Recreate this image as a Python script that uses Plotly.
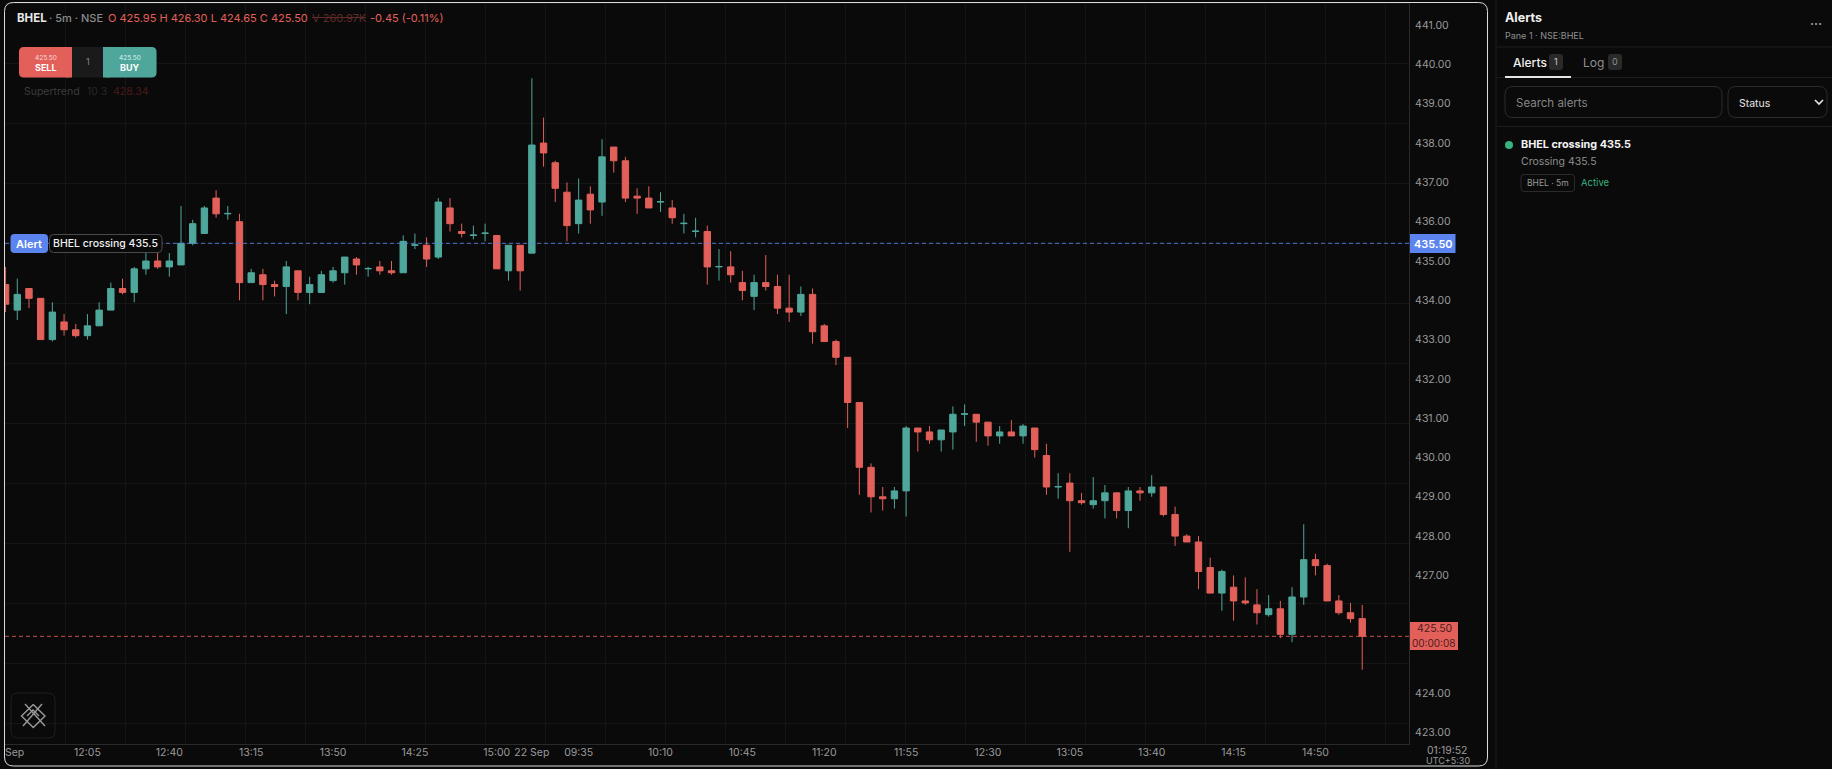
import plotly.graph_objects as go

# OHLC, one entry per candle
opens = [
    434.45, 433.80, 434.35, 434.10, 433.05, 433.50, 433.30, 433.15, 433.40, 433.80,
    434.35, 434.25, 434.85, 435.05, 434.90, 434.95, 435.50, 435.75, 436.65, 436.25,
    436.05, 434.50, 434.70, 434.45, 434.40, 434.80, 434.25, 434.25, 434.55, 434.75,
    435.10, 434.85, 434.90, 434.80, 434.75, 435.45, 435.45, 435.15, 436.40, 435.80,
    435.70, 435.75, 435.70, 434.80, 435.45, 435.25, 438.05, 437.55, 436.80, 436.00,
    436.75, 436.55, 437.95, 437.60, 436.70, 436.65, 436.55, 436.40, 436.00, 435.80,
    435.80, 434.90, 434.90, 434.50, 434.15, 434.50, 434.40, 433.85, 433.75, 434.20,
    433.40, 433.00, 432.60, 431.45, 429.80, 429.05, 429.00, 429.20, 430.80, 430.70,
    430.50, 430.70, 431.15, 431.15, 430.95, 430.60, 430.70, 430.60, 430.80, 430.10,
    429.30, 429.40, 428.95, 428.85, 428.95, 429.15, 428.70, 429.20, 429.15, 429.30,
    428.60, 428.05, 427.90, 427.25, 426.60, 426.75, 426.40, 426.30, 426.05, 426.20,
    425.55, 426.50, 427.45, 427.30, 426.40, 426.10, 425.95,
]
highs = [
    434.90, 434.60, 434.35, 434.10, 434.00, 433.70, 433.45, 433.70, 434.00, 434.50,
    434.60, 434.90, 435.30, 435.30, 435.25, 436.45, 436.10, 436.45, 436.85, 436.45,
    436.25, 434.85, 434.85, 434.55, 435.05, 434.80, 434.65, 434.80, 434.90, 435.15,
    435.15, 434.90, 435.05, 435.05, 435.70, 435.75, 435.65, 436.65, 436.65, 436.00,
    435.95, 436.00, 435.70, 435.45, 435.45, 439.70, 438.70, 437.60, 437.05, 437.15,
    436.95, 438.15, 437.95, 437.70, 436.90, 436.95, 436.80, 436.60, 436.25, 436.15,
    435.95, 435.35, 435.30, 434.80, 434.70, 435.20, 434.70, 434.70, 434.40, 434.35,
    433.45, 433.05, 432.60, 431.45, 429.90, 429.30, 429.30, 430.85, 430.80, 430.85,
    430.75, 431.35, 431.40, 431.15, 430.95, 430.85, 431.00, 430.90, 430.80, 430.40,
    429.65, 429.65, 429.15, 429.55, 429.35, 429.15, 429.30, 429.30, 429.60, 429.30,
    428.80, 428.10, 428.05, 427.50, 427.20, 427.05, 427.00, 426.70, 426.55, 426.40,
    426.75, 428.35, 427.60, 427.35, 426.55, 426.35, 426.30,
]
lows = [
    433.75, 433.55, 433.85, 433.05, 433.00, 433.15, 433.10, 433.05, 433.40, 433.80,
    434.20, 434.00, 434.70, 434.85, 434.65, 434.95, 435.45, 435.75, 436.15, 436.10,
    434.05, 434.50, 434.05, 434.15, 433.70, 434.05, 433.95, 434.25, 434.50, 434.45,
    434.70, 434.65, 434.70, 434.70, 434.75, 435.35, 434.90, 435.10, 435.80, 435.65,
    435.60, 435.55, 434.85, 434.55, 434.30, 435.25, 437.45, 436.55, 435.55, 435.75,
    436.00, 436.20, 437.30, 436.55, 436.25, 436.40, 436.30, 436.00, 435.75, 435.65,
    434.45, 434.55, 434.50, 434.05, 433.80, 434.30, 433.70, 433.50, 433.65, 432.95,
    433.00, 432.40, 430.80, 429.10, 428.65, 428.70, 428.75, 428.55, 430.20, 430.40,
    430.20, 430.25, 430.85, 430.45, 430.35, 430.40, 430.60, 430.40, 430.05, 429.10,
    429.00, 427.65, 428.85, 428.75, 428.50, 428.50, 428.25, 428.95, 429.05, 428.55,
    427.80, 427.90, 426.70, 426.60, 426.15, 425.90, 426.30, 425.80, 426.00, 425.45,
    425.35, 426.30, 427.05, 426.40, 426.05, 425.85, 424.65,
]
closes = [
    433.95, 434.20, 434.10, 433.05, 433.75, 433.30, 433.15, 433.40, 433.80, 434.35,
    434.25, 434.85, 435.05, 434.90, 435.05, 435.50, 436.00, 436.40, 436.25, 436.26,
    434.50, 434.75, 434.45, 434.40, 434.90, 434.25, 434.45, 434.70, 434.80, 435.15,
    434.95, 434.86, 434.80, 434.75, 435.55, 435.46, 435.10, 436.55, 436.00, 435.75,
    435.71, 435.76, 434.85, 435.45, 434.80, 438.00, 437.80, 436.90, 435.95, 436.60,
    436.35, 437.70, 437.60, 436.65, 436.65, 436.40, 436.56, 436.15, 436.01, 435.81,
    434.90, 434.91, 434.70, 434.30, 434.50, 434.40, 433.85, 433.75, 434.20, 433.25,
    433.00, 432.60, 431.45, 429.80, 429.05, 429.00, 429.20, 430.80, 430.70, 430.50,
    430.75, 431.15, 431.16, 430.95, 430.60, 430.70, 430.60, 430.85, 430.25, 429.30,
    429.31, 428.95, 428.90, 428.95, 429.15, 428.70, 429.20, 429.15, 429.30, 428.60,
    428.05, 427.90, 427.15, 426.60, 427.15, 426.40, 426.35, 426.10, 426.20, 425.55,
    426.50, 427.45, 427.30, 426.40, 426.10, 425.95, 425.50,
]

x_tick_index = [7, 14, 21, 28, 35, 42, 45, 49, 56, 63, 70, 77, 84, 91, 98, 105, 112]
x_tick_labels = ["12:05", "12:40", "13:15", "13:50", "14:25", "15:00", "22 Sep", "09:35", "10:10",
                 "10:45", "11:20", "11:55", "12:30", "13:05", "13:40", "14:15", "14:50"]
# 425 and 426 are hidden behind the last price tag in the original
y_ticks = [423, 424, 427, 428, 429, 430, 431, 432, 433, 434, 435, 436, 437, 438, 439, 440, 441]
y_tick_labels = [f"{v:.2f}" for v in y_ticks]
alert_price = 435.50
last_price = 425.50

BG = "#0a0a0a"
TEAL = "#4fa79b"
RED = "#e3605a"
BLUE = "#5b84ee"
GREY = "#9a9a9a"
FONT = "Inter"

# plot area in window pixels
L, R, T, B = 5, 1409, 2, 744


def px(x):
    return (x - L) / (R - L)


def py(y):
    return (B - y) / (B - T)


def rrect(x0, y0, x1, y1, r):
    pts = [
        f"M{px(x0 + r)},{py(y0)}", f"L{px(x1 - r)},{py(y0)}", f"Q{px(x1)},{py(y0)} {px(x1)},{py(y0 + r)}",
        f"L{px(x1)},{py(y1 - r)}", f"Q{px(x1)},{py(y1)} {px(x1 - r)},{py(y1)}",
        f"L{px(x0 + r)},{py(y1)}", f"Q{px(x0)},{py(y1)} {px(x0)},{py(y1 - r)}",
        f"L{px(x0)},{py(y0 + r)}", f"Q{px(x0)},{py(y0)} {px(x0 + r)},{py(y0)}", "Z",
    ]
    return " ".join(pts)


def box(x0, y0, x1, y1, r=0, fill=None, line=None, width=1):
    return dict(type="path", xref="paper", yref="paper", path=rrect(x0, y0, x1, y1, r),
                fillcolor=fill or "rgba(0,0,0,0)", line=dict(color=line or "rgba(0,0,0,0)", width=width))


def seg(x0, y0, x1, y1, color, width=1):
    return dict(type="line", xref="paper", yref="paper", x0=px(x0), y0=py(y0), x1=px(x1), y1=py(y1),
                line=dict(color=color, width=width))


def poly(points, color, width=1.4):
    path = "M" + " L".join(f"{px(a)},{py(b)}" for a, b in points)
    return dict(type="path", xref="paper", yref="paper", path=path, line=dict(color=color, width=width))


def label(x, y, text, size=11, color=GREY, anchor="left", weight=400):
    return dict(xref="paper", yref="paper", x=px(x), y=py(y), text=text, showarrow=False, xanchor=anchor,
                yanchor="middle", borderpad=0, borderwidth=0,
                font=dict(family=FONT, size=size, color=color, weight=weight))


fig = go.Figure(go.Candlestick(
    x=list(range(len(opens))), open=opens, high=highs, low=lows, close=closes,
    increasing=dict(line=dict(color=TEAL, width=1), fillcolor=TEAL),
    decreasing=dict(line=dict(color=RED, width=1), fillcolor=RED),
    showlegend=False,
))

shapes = [
    # price lines
    dict(type="line", xref="paper", yref="y", x0=0, x1=1, y0=alert_price, y1=alert_price, opacity=0.85,
         line=dict(color=BLUE, width=1, dash="4px,3px")),
    dict(type="line", xref="paper", yref="y", x0=0, x1=1, y0=last_price, y1=last_price, opacity=0.85,
         line=dict(color=RED, width=1, dash="4px,3px")),
    # chart frame
    box(4.5, 2.5, 1487.5, 766, 9, line="#dcdcdc"),
    # alert tag
    box(10.5, 234, 48, 253, 4, fill=BLUE),
    box(49.5, 234.5, 162, 252.5, 4, fill=BG, line="#4a4a4a"),
    # price labels
    box(1410, 234, 1455.5, 253, 0, fill=BLUE),
    box(1410, 622, 1458, 650, 0, fill=RED),
    # order widget
    box(19, 47, 156.5, 77.5, 5, fill="#1a1a1a"),
    box(19, 47, 72, 77.5, 5, fill=RED),
    box(66, 47, 72, 77.5, 0, fill=RED),
    box(103, 47, 156.5, 77.5, 5, fill=TEAL),
    box(103, 47, 109, 77.5, 0, fill=TEAL),
    # volume is struck through in the legend
    seg(312, 17.5, 366, 17.5, "#5f2a28"),
    # logo
    box(11, 693, 55, 738, 7, line="#1f1f1f"),
    poly([(33.3, 704.5), (45, 716), (33.3, 727.5), (21.5, 716), (33.3, 704.5)], GREY),
    poly([(25, 704), (45, 726)], GREY),
    poly([(42, 704), (23, 726)], GREY),
    poly([(27, 716), (33, 710), (39, 716)], GREY),
    # side panel
    seg(1496, 0, 1496, 769, "#1e1e1e"),
    seg(1497, 47, 1832, 47, "#1e1e1e"),
    seg(1497, 77.5, 1832, 77.5, "#1e1e1e"),
    seg(1497, 126.5, 1832, 126.5, "#1e1e1e"),
    seg(1505, 77, 1571, 77, "#e6e6e6", 2),
    box(1549, 54, 1563, 70, 3, fill="#2a2a2a"),
    box(1608, 54, 1622, 70, 3, fill="#2a2a2a"),
    box(1505, 86.5, 1722, 117.5, 8, line="#2b2b2b"),
    box(1728, 86.5, 1827, 117.5, 8, line="#2b2b2b"),
    poly([(1815, 100), (1819, 104), (1823, 100)], "#e6e6e6", 1.6),
    dict(type="circle", xref="paper", yref="paper", x0=px(1505), x1=px(1513), y0=py(141), y1=py(149),
         fillcolor="#36b37e", line=dict(width=0)),
    box(1521, 174.5, 1574.5, 191.5, 3, line="#2b2b2b"),
]

annotations = [
    label(17, 17.5, "BHEL", 11.5, "#e8e8e8", weight=700),
    label(49, 17.5, "· 5m · NSE", 11, "#8a8a8a", weight=500),
    label(108, 17.5, "O 425.95 H 426.30 L 424.65 C 425.50", 11, RED),
    label(312, 17.5, "V 260.97K", 11, "#5f2a28"),
    label(370, 17.5, "-0.45 (-0.11%)", 11, RED),
    label(45.5, 57.5, "425.50", 6.5, "#f4dcda", "center"),
    label(45.5, 67.5, "SELL", 9, "#ffffff", "center", 700),
    label(87.5, 61.5, "1", 9, "#8a8a8a", "center"),
    label(129.5, 57.5, "425.50", 6.5, "#dcf0ec", "center"),
    label(129.5, 67.5, "BUY", 9, "#ffffff", "center", 700),
    label(24, 91, "Supertrend", 10.5, "#3c3c3c"),
    label(87, 91, "10 3", 10.5, "#272727"),
    label(113, 91, "428.34", 10.5, "#4a1a18"),
    label(29, 243.5, "Alert", 11, "#ffffff", "center", 600),
    label(105.5, 243.5, "BHEL crossing 435.5", 10.5, "#f0f0f0", "center", 500),
    label(1433, 243.5, "435.50", 11, "#ffffff", "center", 600),
    label(1434, 628.5, "425.50", 10.5, "#4a1c1a", "center"),
    label(1434, 642.5, "00:00:08", 10, "#4a1c1a", "center"),
    label(5, 752.5, "Sep", 10.5, GREY),
    label(1448, 750, "01:19:52", 10.5, GREY, "center"),
    label(1448, 760, "UTC+5:30", 9, GREY, "center"),
    # side panel
    label(1505, 17.5, "Alerts", 12.5, "#f0f0f0", weight=700),
    label(1505, 35, "Pane 1 · NSE:BHEL", 9, "#8f8f8f"),
    label(1816, 24, "···", 12, "#9a9a9a", "center", 700),
    label(1513, 62.5, "Alerts", 12, "#f0f0f0", weight=500),
    label(1556, 62, "1", 9, "#d0d0d0", "center"),
    label(1583, 62.5, "Log", 12, "#8f8f8f"),
    label(1615, 62, "0", 9, "#8f8f8f", "center"),
    label(1516, 103, "Search alerts", 11.5, "#858585"),
    label(1739, 103.5, "Status", 10.5, "#e6e6e6"),
    label(1521, 144, "BHEL crossing 435.5", 10.8, "#f4f4f4", weight=700),
    label(1521, 161, "Crossing 435.5", 10.5, "#8f8f8f"),
    label(1547.5, 183, "BHEL · 5m", 8.5, "#9a9a9a", "center"),
    label(1581, 182.5, "Active", 9.5, "#36b37e"),
]

fig.update_layout(
    width=1832, height=769,
    margin=dict(l=L, r=1832 - R, t=T, b=769 - B),
    paper_bgcolor=BG, plot_bgcolor=BG,
    boxgap=0.22,
    font=dict(family=FONT, size=11, color=GREY),
    shapes=shapes, annotations=annotations,
    xaxis=dict(
        range=[-0.05, 120], rangeslider=dict(visible=False),
        tickmode="array", tickvals=x_tick_index, ticktext=x_tick_labels,
        showgrid=False, zeroline=False, showline=True, linecolor="#2a2a2a",
        ticks="", ticklabelstandoff=-2,
        tickfont=dict(family=FONT, size=10.5, color=GREY),
        minor=dict(showgrid=True, gridcolor="#151515", gridwidth=1, tickmode="linear", tick0=0, dtick=60 / 11.7),
    ),
    yaxis=dict(
        range=[422.76, 441.64], side="right",
        tickmode="array", tickvals=y_ticks, ticktext=y_tick_labels,
        showgrid=False, zeroline=False, showline=True, linecolor="#2a2a2a",
        ticks="outside", ticklen=3, tickcolor="rgba(0,0,0,0)", ticklabelshift=-2,
        tickfont=dict(family=FONT, size=10.5, color=GREY),
        minor=dict(showgrid=True, gridcolor="#151515", gridwidth=1, tickmode="linear", tick0=440.085, dtick=60 / 39.3),
    ),
)

# browser body margin would push the whole picture 8px off
fig.write_html("out.html", config=dict(displayModeBar=False),
               post_script="document.body.style.margin='0';document.body.style.overflow='hidden';document.body.style.background='#0a0a0a';")
